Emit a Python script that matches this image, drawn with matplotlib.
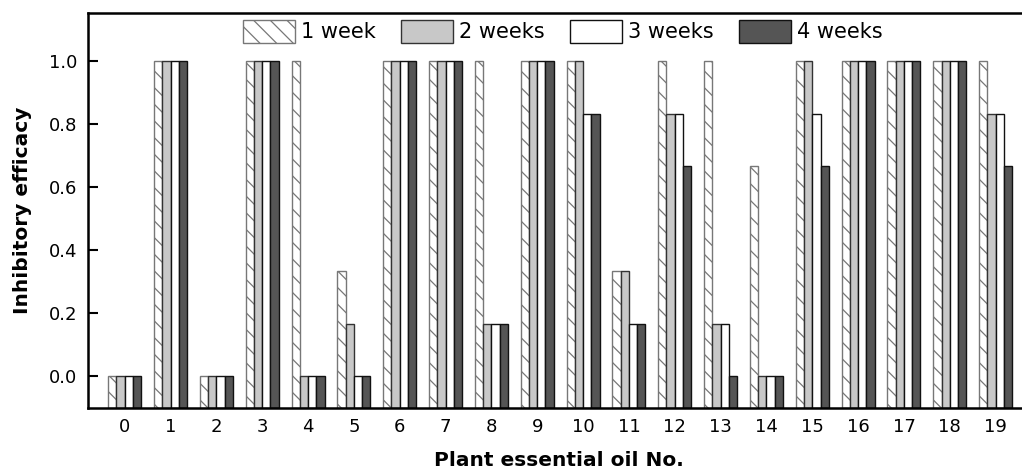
import numpy as np
import matplotlib
matplotlib.use("Agg")
import matplotlib.pyplot as plt

plt.rcParams['font.family'] = ['DejaVu Sans']
plt.rcParams['hatch.linewidth'] = 0.9
plt.rcParams['hatch.color'] = '#222222'

oils = list(range(20))
week1 = [0, 1, 0, 1, 1, 0.333, 1, 1, 1, 1, 1, 0.333, 1, 1, 0.667, 1, 1, 1, 1, 1]
week2 = [0, 1, 0, 1, 0, 0.167, 1, 1, 0.167, 1, 1, 0.333, 0.833, 0.167, 0, 1, 1, 1, 1, 0.833]
week3 = [0, 1, 0, 1, 0, 0, 1, 1, 0.167, 1, 0.833, 0.167, 0.833, 0.167, 0, 0.833, 1, 1, 1, 0.833]
week4 = [0, 1, 0, 1, 0, 0, 1, 1, 0.167, 1, 0.833, 0.167, 0.667, 0, 0, 0.667, 1, 1, 1, 0.667]
labels = ['1 week', '2 weeks', '3 weeks', '4 weeks']

base = -0.1
w = 0.18
x = np.array(oils)

fig = plt.figure(figsize=(10.22, 4.68), dpi=100)
ax = fig.add_axes([88 / 1022, 60 / 468, (1030 - 88) / 1022, 395 / 468])

styles = [
    dict(color='white', edgecolor='#777777', hatch='\\\\'),
    dict(color='#c8c8c8', edgecolor='#333333'),
    dict(color='white', edgecolor='#111111'),
    dict(color='#555555', edgecolor='#111111'),
]
for i, (vals, lab, st) in enumerate(zip([week1, week2, week3, week4], labels, styles)):
    h = np.array(vals) - base
    ax.bar(x + (i - 1.5) * w, h, width=w, bottom=base, label=lab,
           linewidth=1.0, **st)

ax.set_xlim(-0.8, 19.75)
ax.set_ylim(-0.1, 1.152)
ax.set_xticks(oils)
ax.set_yticks([0.0, 0.2, 0.4, 0.6, 0.8, 1.0])
ax.set_yticklabels(['0.0', '0.2', '0.4', '0.6', '0.8', '1.0'])
ax.tick_params(axis='y', direction='in', length=7, width=1.5, labelsize=13, pad=8)
ax.tick_params(axis='x', length=0, labelsize=13, pad=7)
for s in ['left', 'top', 'bottom', 'right']:
    ax.spines[s].set_linewidth(1.8)

ax.set_xlabel('Plant essential oil No.', fontsize=14.5, fontweight='bold', labelpad=11)
ax.set_ylabel('Inhibitory efficacy', fontsize=14.5, fontweight='bold', labelpad=12)

ax.legend(ncol=4, frameon=False, loc='upper center', bbox_to_anchor=(0.504, 1.03),
          fontsize=15, handlelength=2.5, handleheight=1.3, columnspacing=1.2,
          handletextpad=0.3)

fig.savefig('out.png', dpi=100)
